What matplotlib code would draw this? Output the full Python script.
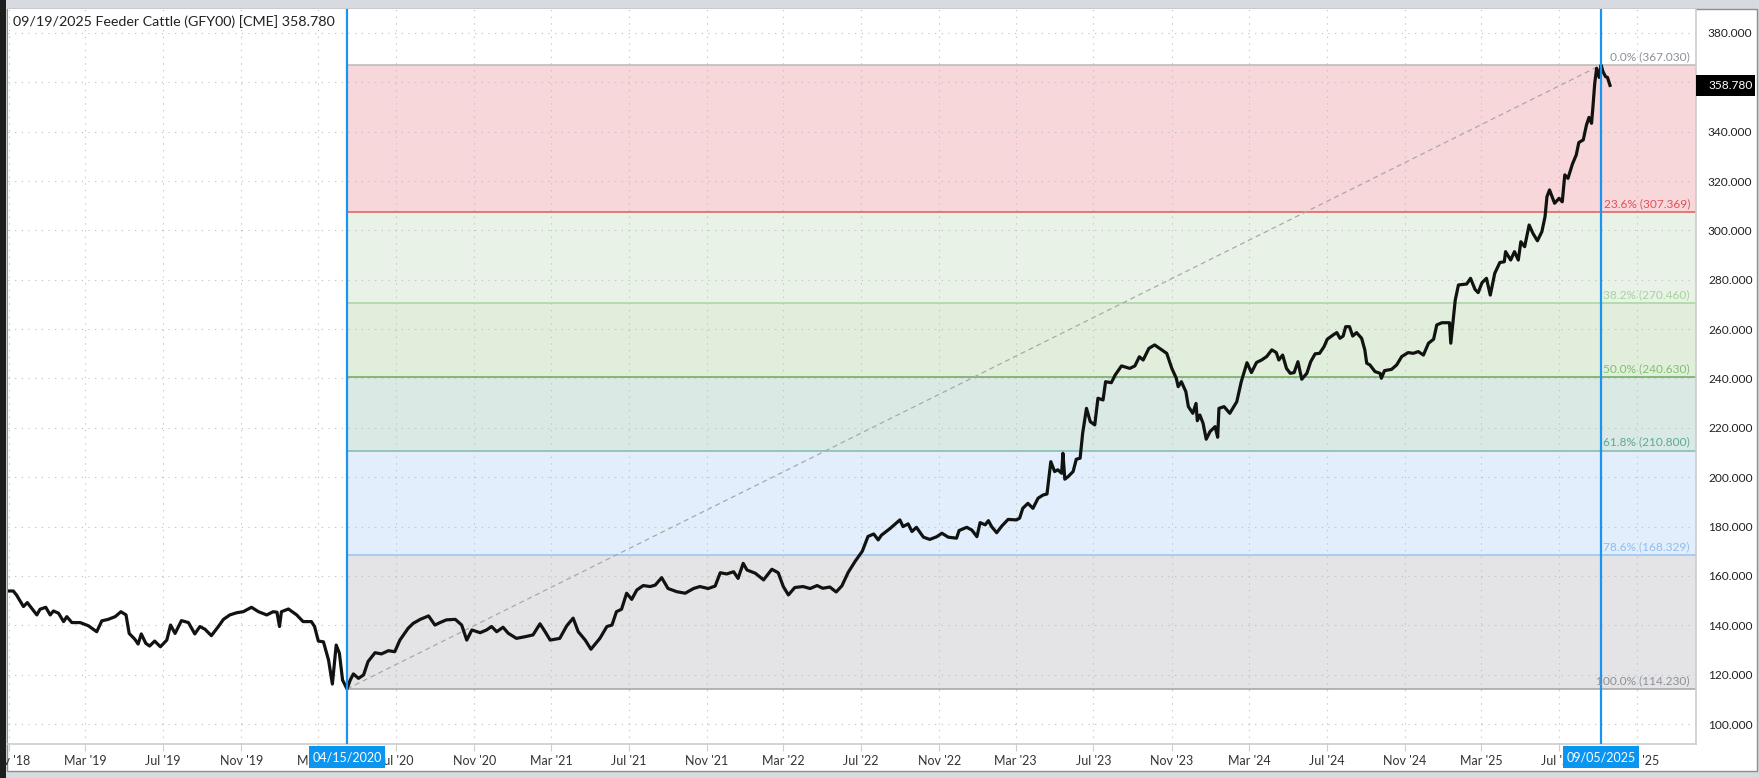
import matplotlib
matplotlib.use('Agg')
import matplotlib.pyplot as plt
import matplotlib.dates as mdates
import matplotlib.transforms as mtransforms
from matplotlib.patches import Rectangle
import pandas as pd

plt.rcParams['font.family'] = ['Lato', 'DejaVu Sans']

# weekly-ish closes
dates = [
    '2018-10-31', '2018-11-08', '2018-11-13', '2018-11-24', '2018-11-30', '2018-12-07', '2018-12-15',
    '2018-12-20', '2018-12-29', '2019-01-05', '2019-01-10', '2019-01-18', '2019-01-26', '2019-01-31',
    '2019-02-08', '2019-02-21', '2019-03-06', '2019-03-19', '2019-03-27', '2019-04-06', '2019-04-17',
    '2019-04-26', '2019-05-04', '2019-05-09', '2019-05-18', '2019-05-23', '2019-05-28', '2019-06-04',
    '2019-06-10', '2019-06-18', '2019-06-27', '2019-07-07', '2019-07-13', '2019-07-20', '2019-07-30',
    '2019-08-10', '2019-08-20', '2019-08-28', '2019-09-05', '2019-09-15', '2019-09-26', '2019-10-04',
    '2019-10-14', '2019-10-25', '2019-11-04', '2019-11-17', '2019-11-28', '2019-12-11', '2019-12-21',
    '2019-12-27', '2019-12-31', '2020-01-03', '2020-01-14', '2020-01-27', '2020-02-06', '2020-02-19',
    '2020-02-24', '2020-03-01', '2020-03-09', '2020-03-17', '2020-03-23', '2020-03-29', '2020-04-03',
    '2020-04-08', '2020-04-15',
    '2020-04-20', '2020-04-25', '2020-05-03', '2020-05-11', '2020-05-18', '2020-05-29', '2020-06-08',
    '2020-06-19', '2020-06-29', '2020-07-07', '2020-07-20', '2020-07-28', '2020-08-08', '2020-08-21',
    '2020-08-31', '2020-09-08', '2020-09-18', '2020-10-02', '2020-10-12', '2020-10-20', '2020-10-28',
    '2020-11-10', '2020-11-20', '2020-11-28', '2020-12-06', '2020-12-16', '2020-12-24', '2021-01-06',
    '2021-01-20', '2021-02-01', '2021-02-12', '2021-02-20', '2021-02-28', '2021-03-15', '2021-03-26',
    '2021-04-05', '2021-04-13', '2021-04-24', '2021-05-03', '2021-05-17', '2021-05-28', '2021-06-05',
    '2021-06-12', '2021-06-20', '2021-06-28', '2021-07-06', '2021-07-14', '2021-07-24', '2021-08-04',
    '2021-08-12', '2021-08-22', '2021-09-01', '2021-09-15', '2021-09-28', '2021-10-11', '2021-10-21',
    '2021-11-03', '2021-11-14', '2021-11-22', '2021-12-02', '2021-12-13', '2021-12-20', '2021-12-28',
    '2022-01-03', '2022-01-16', '2022-01-29', '2022-02-11', '2022-02-21', '2022-03-01', '2022-03-09',
    '2022-03-19', '2022-04-01', '2022-04-12', '2022-04-23', '2022-05-02', '2022-05-13', '2022-05-23',
    '2022-06-01', '2022-06-11', '2022-06-22', '2022-07-03', '2022-07-12', '2022-07-21', '2022-07-28',
    '2022-08-02', '2022-08-16', '2022-08-31', '2022-09-05', '2022-09-13', '2022-09-19', '2022-09-26',
    '2022-10-07', '2022-10-17', '2022-10-28', '2022-11-05', '2022-11-15', '2022-11-28', '2022-12-02',
    '2022-12-14', '2022-12-22', '2022-12-30', '2023-01-04', '2023-01-12', '2023-01-17', '2023-01-22',
    '2023-01-30', '2023-02-07', '2023-02-17', '2023-03-02', '2023-03-07', '2023-03-12', '2023-03-20',
    '2023-03-28', '2023-04-05', '2023-04-13', '2023-04-19', '2023-04-25', '2023-05-01', '2023-05-06',
    '2023-05-12', '2023-05-14', '2023-05-17', '2023-05-22', '2023-05-30', '2023-06-04', '2023-06-10',
    '2023-06-14', '2023-06-20', '2023-06-26', '2023-07-03', '2023-07-08', '2023-07-16', '2023-07-20',
    '2023-07-29', '2023-08-04', '2023-08-14', '2023-08-27', '2023-09-04', '2023-09-11', '2023-09-17',
    '2023-09-26', '2023-10-05', '2023-10-16', '2023-10-24', '2023-11-01', '2023-11-08', '2023-11-11',
    '2023-11-16', '2023-11-23', '2023-11-27', '2023-12-04', '2023-12-09', '2023-12-11', '2023-12-15',
    '2023-12-20', '2023-12-25', '2023-12-31', '2024-01-08', '2024-01-12', '2024-01-14', '2024-01-22',
    '2024-01-31', '2024-02-11', '2024-02-18', '2024-02-27', '2024-03-05', '2024-03-13', '2024-03-21',
    '2024-03-29', '2024-04-06', '2024-04-13', '2024-04-17', '2024-04-23', '2024-04-29', '2024-05-05',
    '2024-05-11', '2024-05-17', '2024-05-23', '2024-05-31', '2024-06-06', '2024-06-13', '2024-06-20',
    '2024-06-27', '2024-07-02', '2024-07-11', '2024-07-17', '2024-07-22', '2024-07-27', '2024-07-31',
    '2024-08-06', '2024-08-11', '2024-08-17', '2024-08-25', '2024-08-30', '2024-09-02', '2024-09-07',
    '2024-09-15', '2024-09-23', '2024-09-25', '2024-09-30', '2024-10-11', '2024-10-19', '2024-10-27',
    '2024-11-06', '2024-11-14', '2024-11-22', '2024-11-30', '2024-12-08', '2024-12-16', '2024-12-21',
    '2024-12-29', '2025-01-10', '2025-01-12', '2025-01-19', '2025-01-24', '2025-02-06', '2025-02-12',
    '2025-02-19', '2025-02-24', '2025-03-02', '2025-03-09', '2025-03-15', '2025-03-22', '2025-03-30',
    '2025-04-06', '2025-04-08', '2025-04-16', '2025-04-22', '2025-04-28', '2025-05-02', '2025-05-08',
    '2025-05-15', '2025-05-21', '2025-05-28', '2025-06-04', '2025-06-09', '2025-06-12', '2025-06-16',
    '2025-06-24', '2025-07-01', '2025-07-06', '2025-07-10', '2025-07-15', '2025-07-22', '2025-07-28',
    '2025-08-01', '2025-08-08', '2025-08-13', '2025-08-17', '2025-08-21', '2025-08-23', '2025-08-26',
    '2025-08-29', '2025-09-02', '2025-09-05', '2025-09-08', '2025-09-12', '2025-09-15', '2025-09-19',
]
prices = [
    153.9, 153.9, 152.3, 147.6, 149.2, 146.9, 144.2,
    146.5, 147.3, 144.2, 145.8, 144.9, 141.5, 143.5,
    141.1, 141.1, 139.8, 137.4, 141.8, 142.4, 143.5,
    145.5, 144.2, 136.7, 134.3, 132.4, 136.5, 132.7,
    131.6, 133.6, 131.3, 134.0, 140.1, 136.7, 141.9,
    141.1, 136.5, 139.5, 138.4, 135.8, 139.5, 142.4,
    144.2, 145.1, 145.5, 147.3, 145.5, 144.2, 145.5,
    145.3, 139.5, 145.5, 146.6, 144.2, 141.5, 141.5,
    139.5, 133.6, 133.3, 125.9, 116.2, 132.0, 128.7,
    117.8, 114.23,
    117.8, 120.3, 118.5, 119.9, 125.3, 128.9, 128.4,
    129.7, 129.3, 134.0, 138.8, 140.8, 142.4, 143.8,
    140.1, 141.1, 142.2, 142.4, 140.1, 134.0, 138.1,
    137.0, 138.1, 139.5, 137.4, 139.2, 136.8, 134.7,
    135.4, 136.1, 140.6, 137.4, 134.0, 134.7, 139.8,
    142.9, 137.4, 134.0, 130.3, 134.7, 139.5, 140.1,
    145.5, 146.5, 153.0, 150.5, 154.3, 156.1, 155.7,
    156.3, 159.3, 154.9, 153.6, 153.0, 154.9, 155.7,
    154.9, 155.9, 161.3, 160.8, 161.7, 159.0, 165.1,
    162.4, 161.1, 158.4, 162.7, 161.3, 155.7, 152.3,
    155.3, 155.7, 154.9, 156.1, 155.0, 155.5, 153.5,
    156.0, 161.5, 166.0, 170.0, 176.0, 177.0, 174.6,
    176.5, 179.3, 182.7, 180.0, 181.1, 178.0, 179.7,
    175.7, 174.8, 175.9, 177.3, 175.7, 175.3, 178.4,
    179.7, 178.6, 175.9, 181.6, 180.7, 182.4, 180.0,
    177.5, 180.2, 182.9, 182.7, 183.4, 187.4, 189.4,
    187.4, 191.5, 192.8, 193.2, 206.3, 202.3, 203.0,
    201.6, 209.7, 199.2, 200.2, 202.3, 207.3, 207.7,
    217.8, 227.9, 222.5, 221.2, 232.0, 231.3, 238.7,
    238.3, 241.4, 245.1, 244.1, 245.1, 248.8, 247.5,
    252.2, 253.6, 251.6, 250.2, 244.1, 240.1, 236.7,
    238.7, 234.7, 228.6, 225.9, 229.9, 222.9, 225.2,
    221.9, 215.4, 218.5, 220.5, 216.2, 227.9, 228.6,
    225.9, 230.6, 238.7, 246.4, 242.4, 246.5, 247.5,
    248.9, 251.6, 250.5, 247.5, 249.5, 244.1, 242.1,
    242.4, 246.8, 239.7, 242.1, 246.8, 250.0, 250.2,
    252.9, 255.9, 257.6, 258.6, 256.3, 257.2, 261.0,
    261.0, 257.2, 258.6, 256.3, 251.6, 246.2, 245.5,
    242.8, 242.1, 240.1, 243.2, 243.7, 245.5, 248.9,
    250.5, 250.2, 250.9, 249.5, 254.3, 255.9, 261.7,
    262.6, 262.6, 254.3, 271.8, 277.9, 278.3, 280.6,
    276.1, 274.8, 278.8, 280.6, 273.8, 282.6, 287.0,
    287.3, 291.4, 288.0, 291.4, 288.0, 295.4, 293.4,
    302.2, 298.8, 295.8, 299.5, 305.6, 313.7, 316.4,
    311.0, 313.0, 311.6, 322.5, 321.1, 326.9, 330.6,
    335.6, 336.7, 342.7, 345.8, 343.4, 349.5, 359.6,
    365.7, 362.0, 367.03, 364.3, 362.3, 362.0, 358.78,
]

title = '09/19/2025 Feeder Cattle (GFY00) [CME] 358.780'
last_price = 358.78
swing_start = '2020-04-15'
swing_end = '2025-09-05'
fib_pct = [0.0, 23.6, 38.2, 50.0, 61.8, 78.6, 100.0]
fib_levels = [367.030, 307.369, 270.460, 240.630, 210.800, 168.329, 114.230]
y_ticks = [100, 120, 140, 160, 180, 200, 220, 240, 260, 280, 300, 320, 340, 360, 380]

line_colors = ['#b9b9b9', '#e05a5a', '#a9d5a0', '#6aaa5c', '#7cbcb0', '#98c4f0', '#a3a3a3']
label_colors = ['#8b9099', '#e0525a', '#a5d49b', '#7fbf70', '#5aa898', '#8fbdf0', '#8b9099']
band_colors = ['#f7d7da', '#e9f2e7', '#e2eedc', '#dbe9e4', '#e2eefb', '#e4e4e6']
blue = '#1a94f0'

W, H = 1759, 778
fig = plt.figure(figsize=(W / 100, H / 100), dpi=100)
fig.patch.set_facecolor('#d7dade')
# white chart panel
fig.add_artist(Rectangle((7 / W, 1 - 771 / H), 1750 / W, 762 / H, transform=fig.transFigure,
                         fc='white', ec='#8e8e8e', lw=1, zorder=0))

ax = fig.add_axes([8 / W, 1 - 744 / H, 1688 / W, 735 / H])
ax.set_facecolor('white')

t = pd.to_datetime(dates)
t0 = pd.Timestamp(swing_start)
t1 = pd.Timestamp(swing_end)
xmin = pd.Timestamp('2018-10-30 17:00')
xmax = pd.Timestamp('2026-02-01')

# fib bands + lines
for i in range(len(fib_levels) - 1):
    ax.fill_between([t0, xmax], fib_levels[i + 1], fib_levels[i], color=band_colors[i], lw=0, zorder=0.5)
for p, v, lc, tc in zip(fib_pct, fib_levels, line_colors, label_colors):
    ax.hlines(v, t0, xmax, color=lc, lw=1.1, zorder=1.6)
    ax.text(0.9964, v + 1.2, f'{p:.1f}% ({v:.3f})', transform=ax.get_yaxis_transform(),
            ha='right', va='bottom', fontsize=8.6, color=tc, zorder=5)

ax.plot([t0, t1], [fib_levels[-1], fib_levels[0]], color='#a9a9a9', lw=0.9, ls=(0, (4, 3)), zorder=1.8)
ax.plot(t, prices, color='#111311', lw=2.3, solid_joinstyle='round', zorder=3)
for d in (t0, t1):
    ax.axvline(d, color=blue, lw=1.6, zorder=4)

ax.set_xlim(xmin, xmax)
ax.set_ylim(91.9, 389.72)

ax.xaxis.set_major_locator(mdates.MonthLocator(bymonth=[3, 7, 11]))
ax.xaxis.set_major_formatter(mdates.DateFormatter("%b '%y"))
ax.yaxis.tick_right()
ax.set_yticks(y_ticks)
ax.set_yticklabels([f'{v:.3f}' for v in y_ticks])
ax.tick_params(axis='x', length=5, color='#cfcfcf', labelsize=9, labelcolor='#333333', pad=3)
ax.tick_params(axis='y', length=0, labelsize=8.6, labelcolor='#222222', pad=8.6)
ax.grid(True, ls=(0, (1, 5)), color='#bdbdbd', lw=0.8)
for s in ('top', 'left'):
    ax.spines[s].set_visible(False)
for s in ('right', 'bottom'):
    ax.spines[s].set_color('#cccccc')
    ax.spines[s].set_linewidth(1.2)

# last price tag on the axis
bt = mtransforms.blended_transform_factory(ax.transAxes, ax.transData)
ax.add_patch(Rectangle((1.0, last_price - 4.25), 59 / 1688, 8.5, transform=bt, fc='black', ec='none',
                       clip_on=False, zorder=6))
ax.text(1.0 + 12 / 1688, last_price, f'{last_price:.3f}', transform=bt, ha='left', va='center',
        color='white', fontsize=8.6, zorder=7, clip_on=False)

# date flags under the swing lines
bx = mtransforms.blended_transform_factory(ax.transData, ax.transAxes)
half = pd.Timedelta(days=59.7)
for d in (t0, t1):
    ax.add_patch(Rectangle((mdates.date2num(d - half), -0.0327), mdates.date2num(d + half) - mdates.date2num(d - half),
                           0.030, transform=bx, fc='#0a95f0', ec='none', clip_on=False, zorder=6))
    ax.text(d, -0.0177, d.strftime('%m/%d/%Y'), transform=bx, ha='center', va='center', color='white',
            fontsize=9, zorder=7, clip_on=False)

fig.text(13 / W, 1 - 22 / H, title, ha='left', va='center', fontsize=10.3, color='#222222')

# dark left edge of the screenshot
fig.add_artist(Rectangle((0, 0), 6 / W, 1, transform=fig.transFigure, fc='#1d1f1d', ec='none', zorder=20))

fig.savefig('out.png', dpi=100, facecolor=fig.get_facecolor())
